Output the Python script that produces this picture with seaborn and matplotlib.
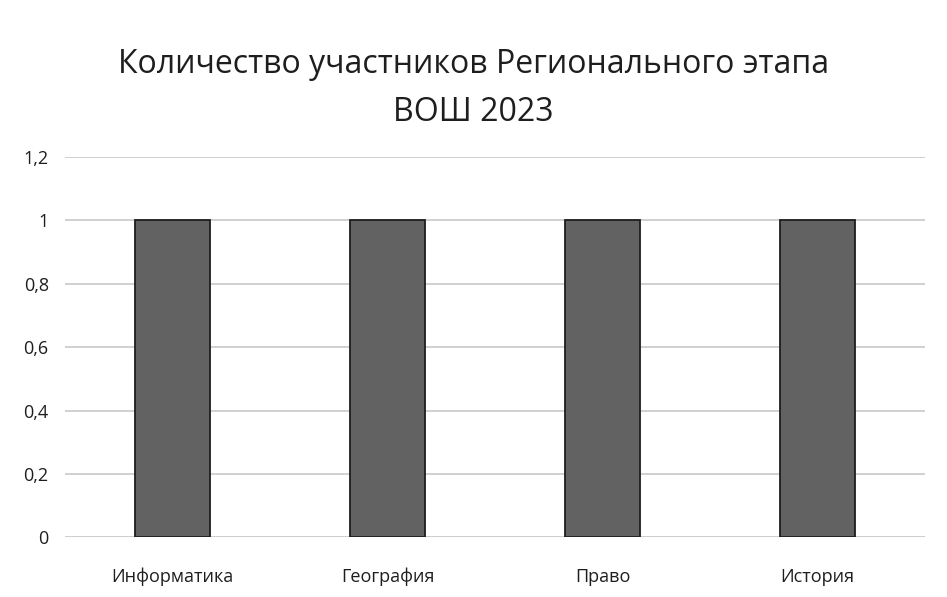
import matplotlib
matplotlib.use("Agg")
import matplotlib.pyplot as plt
import seaborn as sns
import pandas as pd

# data
subjects = ["Информатика", "География", "Право", "История"]
values = [1, 1, 1, 1]
yticks = [0, 0.2, 0.4, 0.6, 0.8, 1.0, 1.2]
ytick_labels = ["0", "0,2", "0,4", "0,6", "0,8", "1", "1,2"]

df = pd.DataFrame({"subject": subjects, "value": values})

sns.set_theme(style="white")
plt.rcParams["font.family"] = ["Open Sans", "DejaVu Sans"]

fig = plt.figure(figsize=(9.47, 5.97), dpi=100)
ax = fig.add_axes([0.069, 0.10, 0.908, 0.637])

sns.barplot(data=df, x="subject", y="value", color="#626262",
            edgecolor="#1e1e1e", linewidth=1.3, width=0.35, ax=ax)

ax.set_ylim(0, 1.2)
ax.set_yticks(yticks)
ax.set_yticklabels(ytick_labels, fontsize=13, color="#1e1e1e")
ax.tick_params(axis="x", labelsize=13, colors="#1e1e1e", pad=22, length=0)
ax.tick_params(axis="y", length=0, pad=12)
ax.yaxis.grid(True, color="#c4c4c4", linewidth=1.1)
ax.set_axisbelow(True)
ax.set_xlabel("")
ax.set_ylabel("")
for s in ax.spines.values():
    s.set_visible(False)
ax.axhline(0, color="#b0b0b0", linewidth=1, zorder=0)

fig.suptitle("Количество участников Регионального этапа\nВОШ 2023",
             fontsize=23, color="#1e1e1e", y=0.92, linespacing=1.6)

fig.savefig("out.png", dpi=100)
